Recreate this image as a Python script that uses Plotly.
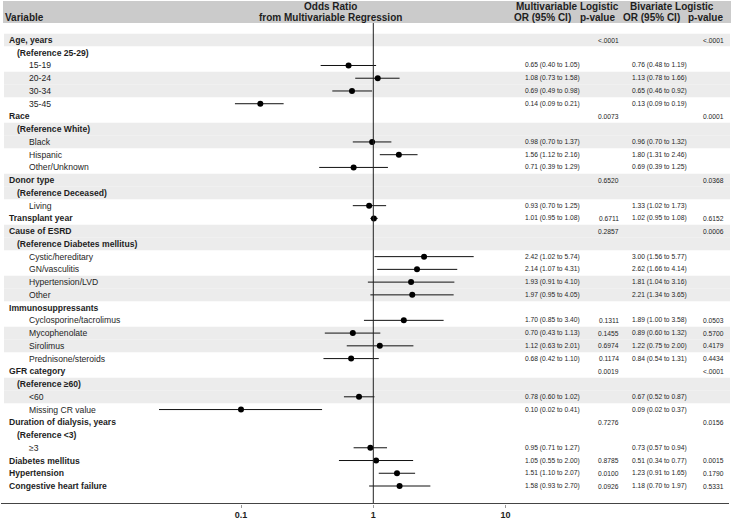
import plotly.graph_objects as go

# ---------------- data ----------------
labels = ["Age, years", "(Reference 25-29)", "15-19", "20-24", "30-34", "35-45",
          "Race", "(Reference White)", "Black", "Hispanic", "Other/Unknown",
          "Donor type", "(Reference Deceased)", "Living", "Transplant year",
          "Cause of ESRD", "(Reference Diabetes mellitus)", "Cystic/hereditary",
          "GN/vasculitis", "Hypertension/LVD", "Other", "Immunosuppressants",
          "Cyclosporine/tacrolimus", "Mycophenolate", "Sirolimus", "Prednisone/steroids",
          "GFR category", "(Reference ≥60)", "&lt;60", "Missing CR value",
          "Duration of dialysis, years", "(Reference &lt;3)", "≥3", "Diabetes mellitus",
          "Hypertension", "Congestive heart failure"]
levels = [0, 1, 2, 2, 2, 2,
          0, 1, 2, 2, 2,
          0, 1, 2, 0,
          0, 1, 2, 2, 2, 2, 0,
          2, 2, 2, 2,
          0, 1, 2, 2,
          0, 1, 2, 0, 0, 0]
N = None
mv_or = [N, N, 0.65, 1.08, 0.69, 0.14, N, N, 0.98, 1.56, 0.71, N, N, 0.93, 1.01,
         N, N, 2.42, 2.14, 1.93, 1.97, N, 1.70, 0.70, 1.12, 0.68, N, N, 0.78, 0.10,
         N, N, 0.95, 1.05, 1.51, 1.58]
mv_lo = [N, N, 0.40, 0.73, 0.49, 0.09, N, N, 0.70, 1.12, 0.39, N, N, 0.70, 0.95,
         N, N, 1.02, 1.07, 0.91, 0.95, N, 0.85, 0.43, 0.63, 0.42, N, N, 0.60, 0.02,
         N, N, 0.71, 0.55, 1.10, 0.93]
mv_hi = [N, N, 1.05, 1.58, 0.98, 0.21, N, N, 1.37, 2.16, 1.29, N, N, 1.25, 1.08,
         N, N, 5.74, 4.31, 4.10, 4.05, N, 3.40, 1.13, 2.01, 1.10, N, N, 1.02, 0.41,
         N, N, 1.27, 2.00, 2.07, 2.70]
mv_p = ["&lt;.0001", "", "", "", "", "", "0.0073", "", "", "", "", "0.6520", "", "", "0.6711",
        "0.2857", "", "", "", "", "", "", "0.1311", "0.1455", "0.6974", "0.1174",
        "0.0019", "", "", "", "0.7276", "", "", "0.8785", "0.0100", "0.0926"]
bv_or = [N, N, 0.76, 1.13, 0.65, 0.13, N, N, 0.96, 1.80, 0.69, N, N, 1.33, 1.02,
         N, N, 3.00, 2.62, 1.81, 2.21, N, 1.89, 0.89, 1.22, 0.84, N, N, 0.67, 0.09,
         N, N, 0.73, 0.51, 1.23, 1.18]
bv_lo = [N, N, 0.48, 0.78, 0.46, 0.09, N, N, 0.70, 1.31, 0.39, N, N, 1.02, 0.95,
         N, N, 1.56, 1.66, 1.04, 1.34, N, 1.00, 0.60, 0.75, 0.54, N, N, 0.52, 0.02,
         N, N, 0.57, 0.34, 0.91, 0.70]
bv_hi = [N, N, 1.19, 1.66, 0.92, 0.19, N, N, 1.32, 2.46, 1.25, N, N, 1.73, 1.08,
         N, N, 5.77, 4.14, 3.16, 3.65, N, 3.58, 1.32, 2.00, 1.31, N, N, 0.87, 0.37,
         N, N, 0.94, 0.77, 1.65, 1.97]
bv_p = ["&lt;.0001", "", "", "", "", "", "0.0001", "", "", "", "", "0.0368", "", "", "0.6152",
        "0.0006", "", "", "", "", "", "", "0.0503", "0.5700", "0.4179", "0.4434",
        "&lt;.0001", "", "", "", "0.0156", "", "", "0.0015", "0.1790", "0.5331"]
shaded_rows = [0, 3, 4, 7, 8, 11, 12, 15, 16, 19, 20, 23, 24, 27, 28]
x_ticks = [0.1, 1, 10]

# ---------------- layout constants ----------------
W, H = 733, 520
ROW0, ROWH = 40.0, 12.743          # pixel y of first row, row height
def yidx(py):                      # pixel -> row coordinate
    return (py - ROW0) / ROWH
def xp(px):
    return px / W
def yp(py):
    return 1 - py / H

FONT = "Liberation Sans, Arial, sans-serif"
TXT = "#1e1e1e"
PX_PER_DEC = 132.3
X_ONE = 373.3
PLOT_L, PLOT_R = 159, 515
xr = [(PLOT_L - X_ONE) / PX_PER_DEC, (PLOT_R - X_ONE) / PX_PER_DEC]

fig = go.Figure()

# CI segments
sx, sy = [], []
for i, (lo, hi) in enumerate(zip(mv_lo, mv_hi)):
    if lo is None:
        continue
    sx += [lo, hi, None]
    sy += [i, i, None]
fig.add_trace(go.Scatter(x=sx, y=sy, mode="lines", line=dict(color="#111", width=1),
                         hoverinfo="skip", showlegend=False))
px_, py_ = [], []
for i, v in enumerate(mv_or):
    if v is not None:
        px_.append(v); py_.append(i)
fig.add_trace(go.Scatter(x=px_, y=py_, mode="markers", marker=dict(color="black", size=6),
                         cliponaxis=False, showlegend=False))

shapes = []
# header band
shapes.append(dict(type="rect", xref="paper", yref="paper", x0=xp(3), x1=xp(731),
                   y0=yp(23), y1=yp(1), fillcolor="#cbcbcb", line=dict(width=0), layer="below"))
# row bands
for r in shaded_rows:
    shapes.append(dict(type="rect", xref="paper", yref="y", x0=xp(4), x1=xp(730),
                       y0=r - 0.5, y1=r + 0.5, fillcolor="#ececec", line=dict(width=0),
                       layer="below"))
# reference line at OR = 1
shapes.append(dict(type="line", xref="x", yref="y", x0=1, x1=1, y0=yidx(23), y1=yidx(503.5),
                   line=dict(color="#222", width=1)))
# full-width axis line
shapes.append(dict(type="line", xref="paper", yref="y", x0=xp(1), x1=xp(729),
                   y0=yidx(503.5), y1=yidx(503.5), line=dict(color="#444", width=1)))

ann = []
def add(text, x, y, yref="y", size=8.5, bold=False, anchor="left", color=TXT):
    ann.append(dict(text=f"<b>{text}</b>" if bold else text, x=xp(x), xref="paper",
                    y=y, yref=yref, xanchor=anchor, yanchor="middle", showarrow=False,
                    borderpad=0, font=dict(family=FONT, size=size, color=color)))

# header
add("Variable", 4, yp(18), yref="paper", size=10, bold=True)
add("Odds Ratio", 330, yp(6.5), yref="paper", size=10, bold=True, anchor="center")
add("from Multivariable Regression", 330, yp(18), yref="paper", size=10, bold=True, anchor="center")
add("Multivariable Logistic", 567, yp(6.5), yref="paper", size=10, bold=True, anchor="center")
add("OR (95% CI)", 542.5, yp(18), yref="paper", size=10, bold=True, anchor="center")
add("p-value", 597.5, yp(18), yref="paper", size=10, bold=True, anchor="center")
add("Bivariate Logistic", 671.5, yp(6.5), yref="paper", size=10, bold=True, anchor="center")
add("OR (95% CI)", 651.5, yp(18), yref="paper", size=10, bold=True, anchor="center")
add("p-value", 705, yp(18), yref="paper", size=10, bold=True, anchor="center")

indent = {0: 7.5, 1: 15.5, 2: 28}
for i, lab in enumerate(labels):
    lv = levels[i]
    add(lab, indent[lv], i, size=8.6, bold=(lv < 2))
    if mv_or[i] is not None:
        add(f"{mv_or[i]:.2f} ({mv_lo[i]:.2f} to {mv_hi[i]:.2f})", 524, i, size=6.7)
    if mv_p[i]:
        add(mv_p[i], 620, i, size=6.7, anchor="right")
    if bv_or[i] is not None:
        add(f"{bv_or[i]:.2f} ({bv_lo[i]:.2f} to {bv_hi[i]:.2f})", 630.5, i, size=6.7)
    if bv_p[i]:
        add(bv_p[i], 725, i, size=6.7, anchor="right")

fig.update_layout(
    width=W, height=H, margin=dict(l=0, r=0, t=0, b=0),
    paper_bgcolor="white", plot_bgcolor="rgba(0,0,0,0)",
    shapes=shapes, annotations=ann, showlegend=False,
    xaxis=dict(type="log", range=xr, domain=[xp(PLOT_L), xp(PLOT_R)],
               anchor="free", position=yp(503.5), showgrid=False, zeroline=False,
               showline=False, tickvals=x_ticks, ticktext=[f"<b>{t:g}</b>" for t in x_ticks],
               ticks="outside", ticklen=3, tickcolor="#999",
               tickfont=dict(family=FONT, size=9, color=TXT)),
    yaxis=dict(range=[yidx(H), yidx(0)], domain=[0, 1], visible=False, showgrid=False),
)

fig.write_html("out.html", config={"displayModeBar": False},
               post_script="document.body.style.margin='0';document.body.style.padding='0';"
                           "document.body.style.overflow='hidden';")
